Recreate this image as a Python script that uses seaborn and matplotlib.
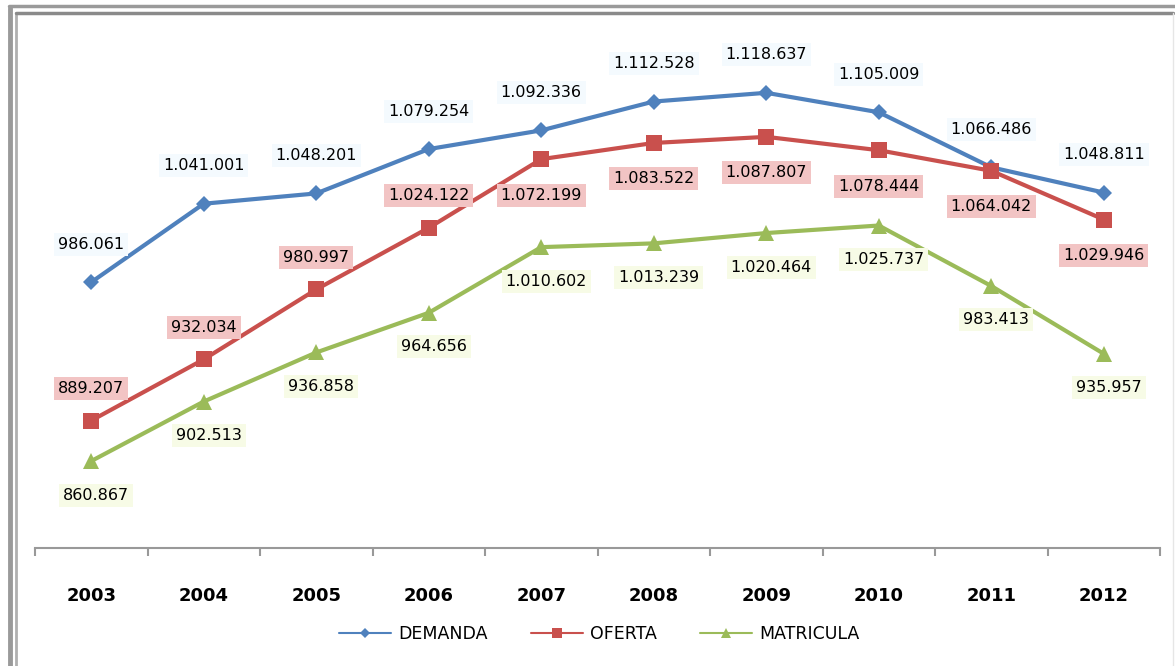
import pandas as pd
import numpy as np
import matplotlib.pyplot as plt
import seaborn as sns
from matplotlib.lines import Line2D

# Datos
anios = ['2003', '2004', '2005', '2006', '2007', '2008', '2009', '2010', '2011', '2012']
demanda = [986061, 1041001, 1048201, 1079254, 1092336, 1112528, 1118637, 1105009, 1066486, 1048811]
oferta = [889207, 932034, 980997, 1024122, 1072199, 1083522, 1087807, 1078444, 1064042, 1029946]
matricula = [860867, 902513, 936858, 964656, 1010602, 1013239, 1020464, 1025737, 983413, 935957]
series = ['DEMANDA', 'OFERTA', 'MATRICULA']

# Posicion de las etiquetas (arriba / abajo del punto)
pos_oferta = ['up', 'up', 'up', 'up', 'down', 'down', 'down', 'down', 'down', 'down']

df = pd.DataFrame({
    'anio': anios * 3,
    'valor': demanda + oferta + matricula,
    'serie': [s for s in series for _ in anios],
})

colores = {'DEMANDA': '#4F81BD', 'OFERTA': '#C9504D', 'MATRICULA': '#9BBB59'}
marcadores = {'DEMANDA': 'D', 'OFERTA': 's', 'MATRICULA': '^'}
tam = {'DEMANDA': 8, 'OFERTA': 11, 'MATRICULA': 11}
fondo = {'DEMANDA': '#F4FAFE', 'OFERTA': '#F2C4C4', 'MATRICULA': '#F7FBE6'}

sns.set_style('white')
plt.rcParams['font.family'] = ['DejaVu Sans']

fig = plt.figure(figsize=(11.75, 6.66), dpi=100)
ax = fig.add_axes([35 / 1175, 1 - 548 / 666, 1125 / 1175, 500 / 666])

for s in series:
    sub = df[df['serie'] == s]
    sns.lineplot(data=sub, x='anio', y='valor', ax=ax, color=colores[s], lw=3,
                 marker=marcadores[s], markersize=tam[s], markeredgewidth=0,
                 legend=False, sort=False)


def fmt(v):
    return f'{v:,}'.replace(',', '.')


def etiqueta(texto, x, y, dx, dy, fc):
    ax.annotate(texto, (x, y), xytext=(dx, dy), textcoords='offset pixels',
                ha='center', va='center', fontsize=11.5, color='black',
                bbox=dict(boxstyle='square,pad=0.25', fc=fc, ec='none'))


for i, v in enumerate(demanda):
    etiqueta(fmt(v), i, v, 0, 38, fondo['DEMANDA'])
for i, v in enumerate(oferta):
    dy = 32 if pos_oferta[i] == 'up' else -36
    etiqueta(fmt(v), i, v, 0, dy, fondo['OFERTA'])
for i, v in enumerate(matricula):
    etiqueta(fmt(v), i, v, 5, -34, fondo['MATRICULA'])

ax.set_xlim(-0.5, len(anios) - 0.5)
ax.set_ylim(800000, 1150000)
ax.set_yticks([])
ax.set_xlabel('')
ax.set_ylabel('')
for lado in ['top', 'right', 'left']:
    ax.spines[lado].set_visible(False)
ax.spines['bottom'].set_color('#999999')
ax.spines['bottom'].set_linewidth(1.5)

ax.set_xticks(range(len(anios)))
ax.set_xticklabels(anios, fontsize=13, fontweight='bold', color='black')
ax.set_xticks(np.arange(-0.5, len(anios)), minor=True)
ax.tick_params(axis='x', which='major', bottom=False, length=0, pad=28)
ax.tick_params(axis='x', which='minor', bottom=True, length=6, color='#999999',
               width=1.5, direction='out')

handles = [Line2D([0], [0], color=colores[s], marker=marcadores[s], lw=1.5,
                  markersize=tam[s] * 0.7, markeredgewidth=0) for s in series]
fig.legend(handles, series, loc='center', bbox_to_anchor=(0.51, 1 - 634 / 666),
           ncol=3, frameon=False, fontsize=12.5, handlelength=3, columnspacing=2.5,
           handletextpad=0.4, labelcolor='black')

# Marco gris
fig.add_artist(Line2D([10 / 1175, 10 / 1175], [0, 1 - 8 / 666], color='#9a9a9a', lw=3.5))
fig.add_artist(Line2D([16 / 1175, 16 / 1175], [0, 1 - 13 / 666], color='#b0b0b0', lw=2))
fig.add_artist(Line2D([9 / 1175, 1175 / 1175], [1 - 6 / 666, 1 - 6 / 666], color='#9a9a9a', lw=2.5))
fig.add_artist(Line2D([16 / 1175, 1173 / 1175], [1 - 13 / 666, 1 - 13 / 666], color='#8a8a8a', lw=2.5))
fig.add_artist(Line2D([1173 / 1175, 1173 / 1175], [0, 1 - 13 / 666], color='#e6e6e6', lw=1))

plt.savefig('out.png', dpi=100)
